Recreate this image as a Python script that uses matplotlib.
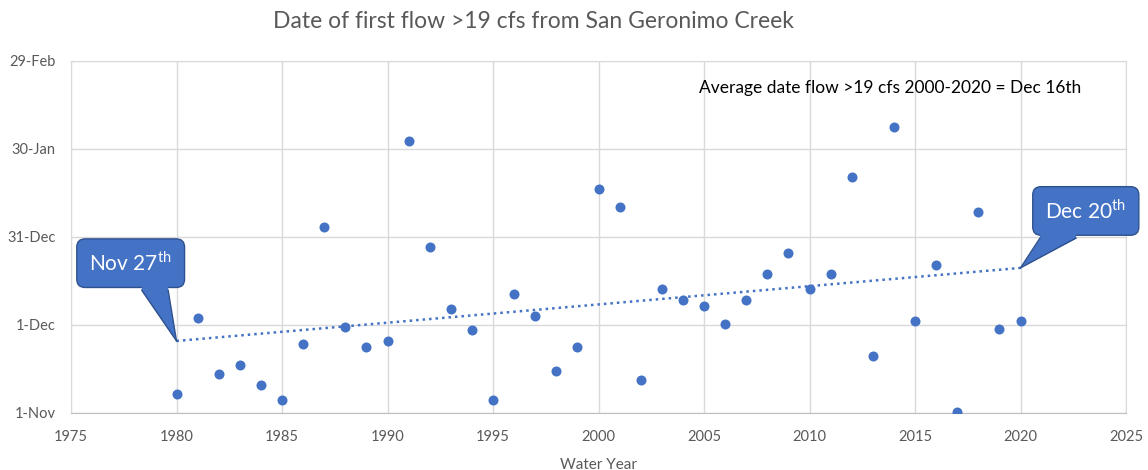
#!/usr/bin/env python3
"""Date of first flow >19 cfs from San Geronimo Creek, by water year."""
import numpy as np
from matplotlib import pyplot as plt
from matplotlib import transforms
from matplotlib.patches import Polygon

plt.rcParams['font.family'] = ['Lato', 'DejaVu Sans']
plt.rcParams['mathtext.fontset'] = 'custom'
plt.rcParams['mathtext.rm'] = 'Lato'

# days after 1-Nov of the first flow > 19 cfs
years = list(range(1980, 2021))
days = [6.5, 32.5, 13.4, 16.4, 9.5, 4.3, 23.4, 63.4, 29.3, 22.5,
        24.5, 92.7, 56.5, 35.5, 28.4, 4.3, 40.6, 33.2, 14.3, 22.5,
        76.4, 70.3, 11.3, 42.4, 38.4, 36.4, 30.5, 38.4, 47.4, 54.4,
        42.4, 47.4, 80.6, 19.4, 97.4, 31.4, 50.5, 0.4, 68.5, 28.5,
        31.4]
ytick_vals = [0, 30, 60, 90, 120]
ytick_labels = ['1-Nov', '1-Dec', '31-Dec', '30-Jan', '29-Feb']
callout_start = 'Nov 27$^{\\mathrm{th}}$'
callout_end = 'Dec 20$^{\\mathrm{th}}$'
note = 'Average date flow >19 cfs 2000-2020 = Dec 16th'

BLUE = '#4472C4'
DARK = '#2F528F'
GREY = '#595959'


def callout(ax, x, y, text, box_off, tail_x):
    """Rounded box with a triangular tail pointing at (x, y).
    box_off: box centre offset in points; tail_x: tail base x-range in points."""
    fig = ax.figure
    ax.annotate(text, xy=(x, y), xytext=box_off, textcoords='offset points',
                ha='center', va='center', fontsize=15, color='white', zorder=5,
                annotation_clip=False,
                bbox=dict(boxstyle='round,pad=0.6,rounding_size=0.4',
                          fc=BLUE, ec=DARK, lw=1))
    # tail, in points relative to the target point
    trans = transforms.Affine2D().scale(1 / 72.) + fig.dpi_scale_trans + \
        transforms.ScaledTranslation(x, y, ax.transData)
    by = box_off[1] - 12   # just inside the box bottom
    base_y = by - 8
    tri = [(0, 0), (tail_x[0], base_y), (tail_x[0], by), (tail_x[1], by), (tail_x[1], base_y)]
    ax.add_patch(Polygon(tri, closed=True, fc=BLUE, ec='none', transform=trans,
                         zorder=6, clip_on=False))
    for tx_ in tail_x:
        ax.plot([0, tx_], [0, base_y + 0.5], color=DARK, lw=1, transform=trans,
                zorder=6, clip_on=False)


fig = plt.figure(figsize=(11.48, 4.70), dpi=100)
ax = fig.add_axes((71 / 1148, 1 - 413 / 470, (1126 - 71) / 1148, (413 - 61) / 470))

ax.scatter(years, days, s=52, color=BLUE, zorder=3, linewidths=0)

slope, icpt = np.polyfit(years, days, 1)
tx = np.array([years[0], years[-1]])
ax.plot(tx, slope * tx + icpt, ls=(0, (1, 1.6)), lw=1.8, color=BLUE, zorder=2)

ax.set_xlim(1975, 2025)
ax.set_ylim(0, 120)
ax.set_xticks(range(1975, 2026, 5))
ax.set_yticks(ytick_vals)
ax.set_yticklabels(ytick_labels)
ax.tick_params(colors=GREY, labelsize=10.5, length=0)
ax.tick_params(axis='y', pad=11)
ax.tick_params(axis='x', pad=12)
ax.grid(True, color='#D9D9D9', lw=1)
ax.set_axisbelow(True)
for s in ax.spines.values():
    s.set_color('#D9D9D9')
ax.spines['bottom'].set_color('#BFBFBF')

ax.set_xlabel('Water Year', color=GREY, fontsize=11, labelpad=10)
fig.text(533 / 1148, 1 - 22 / 470, 'Date of first flow >19 cfs from San Geronimo Creek',
         ha='center', va='center', fontsize=16.5, color=GREY)
ax.text(0.595, 0.922, note, transform=ax.transAxes, fontsize=12.5, color='black',
        ha='left', va='center')

callout(ax, tx[0], slope * tx[0] + icpt, callout_start, (-33, 56), (-25, -6))
callout(ax, tx[1], slope * tx[1] + icpt, callout_end, (47, 41), (14, 40))

fig.savefig('out.png', dpi=100)
